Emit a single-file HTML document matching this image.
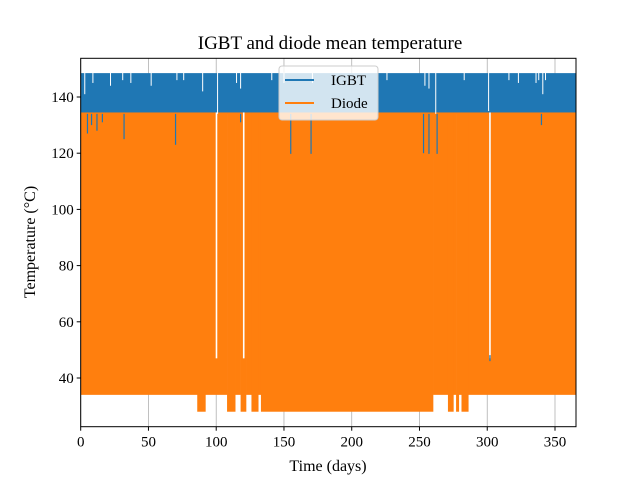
<!DOCTYPE html>
<html><head><meta charset="utf-8"><style>
body{margin:0;background:#fff;}
svg{font-family:"Liberation Serif","DejaVu Serif",serif;}
</style></head><body>
<svg id="chart" width="640" height="480" viewBox="0 0 640 480" xmlns="http://www.w3.org/2000/svg">
<rect x="0" y="0" width="640" height="480" fill="#fff"/>
<text x="330" y="49" font-size="19" text-anchor="middle">IGBT and diode mean temperature</text>
<g id="grid"></g>
<g id="marks"></g>
<g id="axes"></g>
<text x="328" y="471" font-size="16" text-anchor="middle">Time (days)</text>
<text transform="translate(35,242) rotate(-90)" font-size="16" text-anchor="middle">Temperature (°C)</text>
<g>
<rect x="279" y="66" width="99" height="54" rx="3" fill="#fff" fill-opacity="0.8" stroke="#ccc"/>
<line x1="285" y1="80" x2="314" y2="80" stroke="#1f77b4" stroke-width="2"/>
<text x="331" y="85" font-size="15">IGBT</text>
<line x1="285" y1="103" x2="314" y2="103" stroke="#ff7f0e" stroke-width="2"/>
<text x="331" y="108" font-size="15">Diode</text>
</g>
</svg>
<script>
const xTicks=[0,50,100,150,200,250,300,350];
const yTicks=[40,60,80,100,120,140];
const igbtMax=148.5, igbtMin=134;
const segStart=[0,86,92,108,114,118,122,126,131,133,260,271,275,277,279,281,286];
const segEnd=[86,92,108,114,118,122,126,131,133,260,271,275,277,279,281,286,365];
const segLow=[34,28,34,28,34,28,34,28,34,28,34,28,34,28,34,28,34];
const diodeMax=134.5;
const gapDays=[100.2,120.3,302];
const igbtDipDays=[5,8,12,16,32,70,118,155,170,253,257,263,302,340];
const igbtDipVals=[127,130,128,131,125,123,131,117,103,120,118,92,46,130];
const topNotchDays=[3,9,22,31,37,52,71,76,90,101,115,118,141,150,171,226,254,257,262,283,301,316,323,336,338,341,343];
const topNotchVals=[141,145,144,146,145,144,146,146,142,134,145,143,146,145,145,146,144,143,134,146,135,146,145,145,146,141,146];

const X0=80.7,X1=576,Y0=58.3,Y1=426.7;
const xs=d=>X0+(d-0)*(X1-X0)/365.5;
const ys=v=>97+(140-v)*2.81;
const NS="http://www.w3.org/2000/svg";
function mk(tag,attrs,parent){const e=document.createElementNS(NS,tag);for(const k in attrs)e.setAttribute(k,attrs[k]);parent.appendChild(e);return e;}
const grid=document.getElementById('grid'),marks=document.getElementById('marks'),axes=document.getElementById('axes');
xTicks.forEach(t=>{const l=mk('line',{x1:xs(t),x2:xs(t),y1:Y0,y2:Y1,stroke:'#b0b0b0','stroke-width':0.8},grid);

});
const ib=mk('rect',{x:X0,y:ys(igbtMax),width:X1-X0,height:ys(igbtMin)-ys(igbtMax),fill:'#1f77b4'},marks);


segStart.forEach((s,i)=>{const r=mk('rect',{x:xs(s),y:ys(diodeMax),width:xs(segEnd[i])-xs(s)+0.3,height:ys(segLow[i])-ys(diodeMax),fill:'#ff7f0e'},marks);

});
igbtDipDays.forEach((d,i)=>{const r=mk('rect',{x:xs(d)-0.6,y:ys(igbtMin),width:1.2,height:Math.min(ys(igbtDipVals[i])-ys(igbtMin),40),fill:'#1f77b4'},marks);

});
topNotchDays.forEach((d,i)=>{const r=mk('rect',{x:xs(d)-0.5,y:ys(igbtMax)-0.5,width:1,height:ys(topNotchVals[i])-ys(igbtMax)+0.5,fill:'#fff'},marks);

});
gapDays.forEach(d=>{const r=mk('rect',{x:xs(d)-0.8,y:ys(diodeMax),width:1.6,height:ys(47)-ys(diodeMax),fill:'#fff'},marks);

});
igbtDipDays.forEach((d,i)=>{if(igbtDipVals[i]<60){const r=mk('rect',{x:xs(d)-0.6,y:ys(igbtDipVals[i])-6,width:1.2,height:6,fill:'#1f77b4'},marks);

}});
const fr=mk('rect',{x:X0,y:Y0,width:X1-X0,height:Y1-Y0,fill:'none',stroke:'#000','stroke-width':1},axes);


xTicks.forEach(t=>{mk('line',{x1:xs(t),x2:xs(t),y1:Y1,y2:Y1+4,stroke:'#000'},axes);
const tx=mk('text',{x:xs(t),y:Y1+20,'font-size':15,'text-anchor':'middle'},axes);tx.textContent=t;

});
yTicks.forEach(t=>{mk('line',{x1:X0-4,x2:X0,y1:ys(t),y2:ys(t),stroke:'#000'},axes);
const tx=mk('text',{x:X0-7,y:ys(t)+5,'font-size':15,'text-anchor':'end'},axes);tx.textContent=t;

});
</script>
</body></html>
